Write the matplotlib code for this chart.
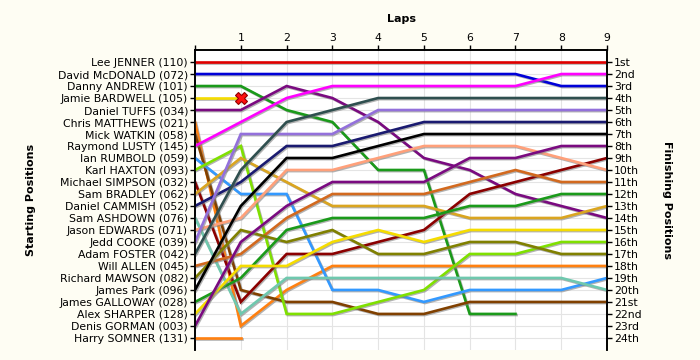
import matplotlib
matplotlib.use("Agg")
import matplotlib.pyplot as plt
import matplotlib.patheffects as pe

drivers = ["Lee JENNER", "David McDONALD", "Danny ANDREW", "Jamie BARDWELL",
           "Daniel TUFFS", "Chris MATTHEWS", "Mick WATKIN", "Raymond LUSTY",
           "Ian RUMBOLD", "Karl HAXTON", "Michael SIMPSON", "Sam BRADLEY",
           "Daniel CAMMISH", "Sam ASHDOWN", "Jason EDWARDS", "Jedd COOKE",
           "Adam FOSTER", "Will ALLEN", "Richard MAWSON", "James Park",
           "James GALLOWAY", "Alex SHARPER", "Denis GORMAN", "Harry SOMNER"]
numbers = ["110", "072", "101", "105", "034", "021", "058", "145", "059", "093",
           "032", "062", "052", "076", "071", "039", "042", "045", "082", "096",
           "028", "128", "003", "131"]

# position at lap 0..n for each driver (shorter list = retired)
positions = [
    [1, 1, 1, 1, 1, 1, 1, 1, 1, 1],
    [2, 2, 2, 2, 2, 2, 2, 2, 3, 3],
    [3, 3, 5, 6, 10, 10, 22, 22],
    [4, 4],
    [5, 5, 3, 4, 6, 9, 10, 12, 13, 14],
    [6, 23, 20, 18, 18, 18, 18, 18, 18, 18],
    [7, 20, 21, 21, 22, 22, 21, 21, 21, 21],
    [8, 6, 4, 3, 3, 3, 3, 3, 2, 2],
    [9, 12, 12, 20, 20, 21, 20, 20, 20, 19],
    [10, 8, 22, 22, 21, 20, 17, 17, 16, 16],
    [11, 21, 17, 17, 16, 15, 12, 11, 10, 9],
    [12, 9, 11, 13, 13, 13, 14, 14, 14, 13],
    [13, 11, 8, 8, 7, 6, 6, 6, 6, 6],
    [14, 22, 19, 19, 19, 19, 19, 19, 19, 20],
    [15, 14, 10, 10, 9, 8, 8, 8, 9, 10],
    [16, 7, 7, 7, 5, 5, 5, 5, 5, 5],
    [17, 10, 6, 5, 4, 4, 4, 4, 4, 4],
    [18, 17, 14, 12, 12, 12, 11, 10, 11, 11],
    [19, 15, 16, 15, 17, 17, 16, 16, 17, 17],
    [20, 13, 9, 9, 8, 7, 7, 7, 7, 7],
    [21, 19, 15, 14, 14, 14, 13, 13, 12, 12],
    [22, 18, 18, 16, 15, 16, 15, 15, 15, 15],
    [23, 16, 13, 11, 11, 11, 9, 9, 8, 8],
    [24, 24],
]
crashed = [3]  # Jamie BARDWELL

colors = ["#E00000", "#0000D8", "#1A9A1A", "#F5DC00", "#7A0A80", "#FF8010",
          "#804000", "#FF00FF", "#3399FF", "#7FE000", "#8B0000", "#DAA520",
          "#1A1A70", "#6FC8AE", "#FFA07A", "#9370DB", "#2F4F4F", "#D2691E",
          "#808000", "#000000", "#1A9A1A", "#F5DC00", "#7A0A80", "#FF8010"]

lap_labels = ["", "1", "2", "3", "4", "5", "6", "7", "8", "9"]
finish_labels = ["1st", "2nd", "3rd", "4th", "5th", "6th", "7th", "8th", "9th",
                 "10th", "11th", "12th", "13th", "14th", "15th", "16th", "17th",
                 "18th", "19th", "20th", "21st", "22nd", "23rd", "24th"]

bg = "#FEFDF3"
fig = plt.figure(figsize=(7, 3.6), dpi=100, facecolor=bg)
ax = fig.add_axes([0.2786, 0.028, 0.5886, 0.833])
ax.set_facecolor("white")

shadow = [pe.SimpleLineShadow(offset=(0.8, -0.8), shadow_color="#808080", alpha=0.6),
          pe.Normal()]
for i, pos in enumerate(positions):
    laps = list(range(len(pos)))
    ax.plot(laps, pos, color=colors[i], lw=1.9, solid_joinstyle="miter",
            path_effects=shadow, zorder=3)
for i in crashed:
    pos = positions[i]
    ax.plot(len(pos) - 1, pos[-1], marker="X", ms=8, color="#FF1010",
            mec="#900000", mew=0.8, zorder=5)

ax.set_xlim(0, 9)
ax.set_ylim(25, 0)
ax.set_xticks(range(10))
ax.set_xticklabels(lap_labels)
ax.xaxis.tick_top()
ax.xaxis.set_label_position("top")
ax.set_xlabel("Laps", fontsize=8, fontweight="bold", labelpad=8)

ax.set_yticks(range(1, 25))
ax.set_yticklabels([f"{d} ({n})" for d, n in zip(drivers, numbers)])
ax.set_ylabel("Starting Positions", fontsize=8, fontweight="bold", labelpad=16)
ax.tick_params(axis="both", labelsize=7.8, length=3.5, width=1, pad=1.5)

ax2 = ax.twinx()
ax2.set_ylim(25, 0)
ax2.set_yticks(range(1, 25))
ax2.set_yticklabels(finish_labels)
ax2.tick_params(axis="y", labelsize=7.8, length=3.5, width=1, pad=1.5)
ax2.set_ylabel("Finishing Positions", fontsize=8, fontweight="bold",
               rotation=270, labelpad=22)

ax.grid(True, color="#E4E4E4", lw=0.8, zorder=0)
ax.set_axisbelow(True)
for a in (ax, ax2):
    a.spines["bottom"].set_visible(False)
    a.spines["top"].set_linewidth(1.2)
    a.spines["left"].set_linewidth(1.2)
    a.spines["right"].set_linewidth(1.2)

fig.savefig("out.png", dpi=100, facecolor=bg)
